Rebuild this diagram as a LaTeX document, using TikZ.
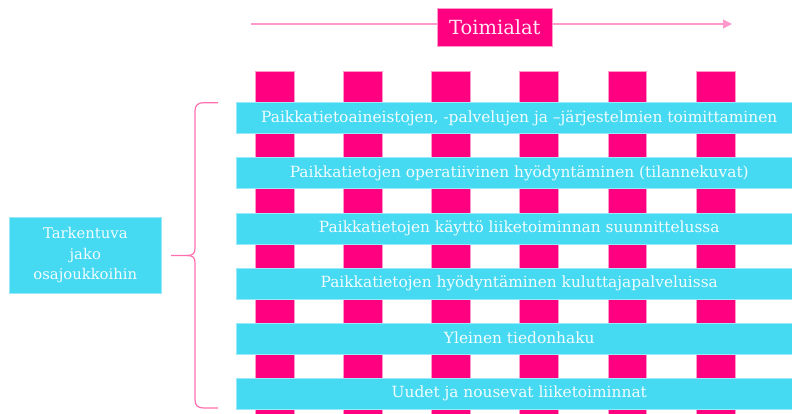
\documentclass[tikz,border=0pt]{standalone}
\usepackage{fontspec}
\setmainfont{DejaVu Serif}
\usetikzlibrary{arrows.meta, positioning}
\definecolor{tmMagenta}{HTML}{FF0080}
\definecolor{tmPink}{HTML}{FF99CC}
\definecolor{tmBrace}{HTML}{FF6FAE}
\definecolor{tmCyan}{HTML}{45D9F2}
\definecolor{tmText}{HTML}{F2FCFF}
\definecolor{tmLight}{HTML}{FFE8F3}
\tikzset{
  arrowP/.style={-{Triangle[length=9pt, width=9pt]}, tmPink, line width=1.3pt},
  braceP/.style={tmBrace, line width=1.2pt},
  colBar/.style={rectangle, draw=tmPink, line width=0.5pt, fill=tmMagenta,
                 anchor=north west, minimum width=38.8pt, minimum height=360pt, inner sep=0pt},
  rowBar/.style={rectangle, draw=tmCyan!55!white, line width=0.5pt, fill=tmCyan,
                 text=tmText, anchor=north west, minimum width=566pt, minimum height=31pt,
                 inner sep=0pt, font=\fontsize{15.4}{18}\selectfont},
  boxTitle/.style={rectangle, draw=tmPink, line width=0.5pt, fill=tmMagenta, text=tmLight,
                   minimum width=115pt, minimum height=38.3pt, inner sep=0pt,
                   font=\fontsize{19.5}{22}\selectfont},
  boxSide/.style={rectangle, draw=tmCyan!55!white, line width=0.5pt, fill=tmCyan, text=tmText,
                  align=center, minimum width=152pt, minimum height=75.6pt, inner sep=0pt,
                  font=\fontsize{14.8}{20.5}\selectfont},
}
\begin{document}
\begin{tikzpicture}[x=1pt, y=-1pt]
    \useasboundingbox (0,0) rectangle (792,414);
    \clip (0,0) rectangle (792,414);
    % toimialat arrow
    \coordinate (arrS) at (251,24);
    \coordinate (arrE) at (732,24);
    \draw[arrowP] (arrS) -- (arrE);
    \node[boxTitle] (title) at (494.8,27.2) {Toimialat};
    % columns
    \node[colBar] (col1) at (254.7,71) {};
    \node[colBar] (col2) at (342.9,71) {};
    \node[colBar] (col3) at (431.1,71) {};
    \node[colBar] (col4) at (519.3,71) {};
    \node[colBar] (col5) at (607.5,71) {};
    \node[colBar] (col6) at (695.7,71) {};
    % rows
    \node[rowBar] (rowData) at (236,102.5) {Paikkatietoaineistojen, -palvelujen ja –järjestelmien toimittaminen};
    \node[rowBar] (rowOps) at (236,157.5) {Paikkatietojen operatiivinen hyödyntäminen (tilannekuvat)};
    \node[rowBar] (rowPlan) at (236,212.5) {Paikkatietojen käyttö liiketoiminnan suunnittelussa};
    \node[rowBar] (rowCons) at (236,267.5) {Paikkatietojen hyödyntäminen kuluttajapalveluissa};
    \node[rowBar] (rowSearch) at (236,322.5) {Yleinen tiedonhaku};
    \node[rowBar] (rowNew) at (236,377.5) {Uudet ja nousevat liiketoiminnat};
    % side box and brace
    \node[boxSide] (side) at (85.3,255.5) {Tarkentuva\\jako\\osajoukkoihin};
    \coordinate (brTop) at (218,102.7);
    \coordinate (brBot) at (218,408);
    \coordinate (brTip) at (side.east -| 171,0);
    \draw[braceP] (brTop) -- (204,102.7) .. controls (198,102.7) and (195,105) .. (195,111)
      -- (195,248) .. controls (195,253.5) and (193,255.5) .. (187,255.5) -- (brTip);
    \draw[braceP] (brBot) -- (204,408) .. controls (198,408) and (195,405.7) .. (195,399.7)
      -- (195,263) .. controls (195,257.5) and (193,255.5) .. (187,255.5);
\end{tikzpicture}
\end{document}
